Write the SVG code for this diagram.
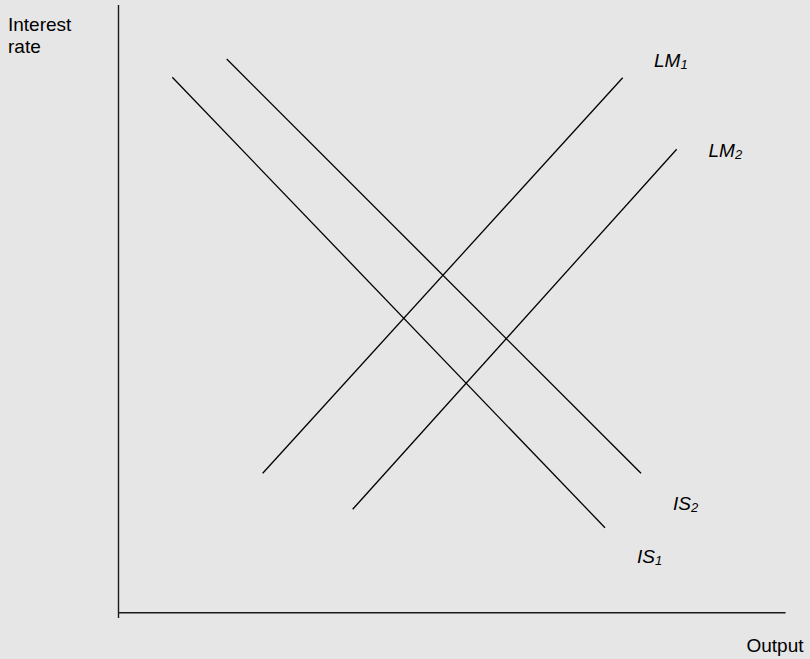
<svg xmlns="http://www.w3.org/2000/svg" width="810" height="659" viewBox="0 0 810 659">
<style>
.ln{stroke:#000;stroke-width:1.3;fill:none}
.ax{stroke:#1a1a1a;stroke-width:1.4;fill:none}
.t{font-family:"Liberation Sans",Arial,sans-serif;font-size:19px;fill:#000}
.lb{font-family:"Liberation Sans",Arial,sans-serif;font-size:19px;font-style:italic;fill:#000}
.sub{font-size:13px}
</style>
<rect x="0" y="0" width="810" height="659" fill="#e6e6e6"/>
<g id="axes">
<line class="ax" x1="118.5" y1="5" x2="118.5" y2="618"/>
<line class="ax" x1="118.5" y1="612.7" x2="785.6" y2="612.7"/>
</g>
<g id="y-label"><text class="t" x="8" y="30.7">Interest</text><text class="t" x="8" y="53.3">rate</text></g>
<g id="x-label"><text class="t" x="746.5" y="652.3">Output</text></g>
<g id="connectors">
<line id="IS1-line" class="ln" x1="172.3" y1="77.3" x2="605" y2="527.7"/>
<line id="IS2-line" class="ln" x1="226.7" y1="59" x2="641" y2="473.3"/>
<line id="LM1-line" class="ln" x1="262.7" y1="473.3" x2="622.7" y2="77.7"/>
<line id="LM2-line" class="ln" x1="352.7" y1="509.3" x2="676.7" y2="149.3"/>
</g>
<g id="LM1"><text class="lb" x="654" y="67.3">LM<tspan class="sub" dy="2">1</tspan></text></g>
<g id="LM2"><text class="lb" x="708.5" y="157.3">LM<tspan class="sub" dy="2">2</tspan></text></g>
<g id="IS2"><text class="lb" x="673" y="510">IS<tspan class="sub" dy="2">2</tspan></text></g>
<g id="IS1"><text class="lb" x="637" y="563.3">IS<tspan class="sub" dy="2">1</tspan></text></g>
</svg>
